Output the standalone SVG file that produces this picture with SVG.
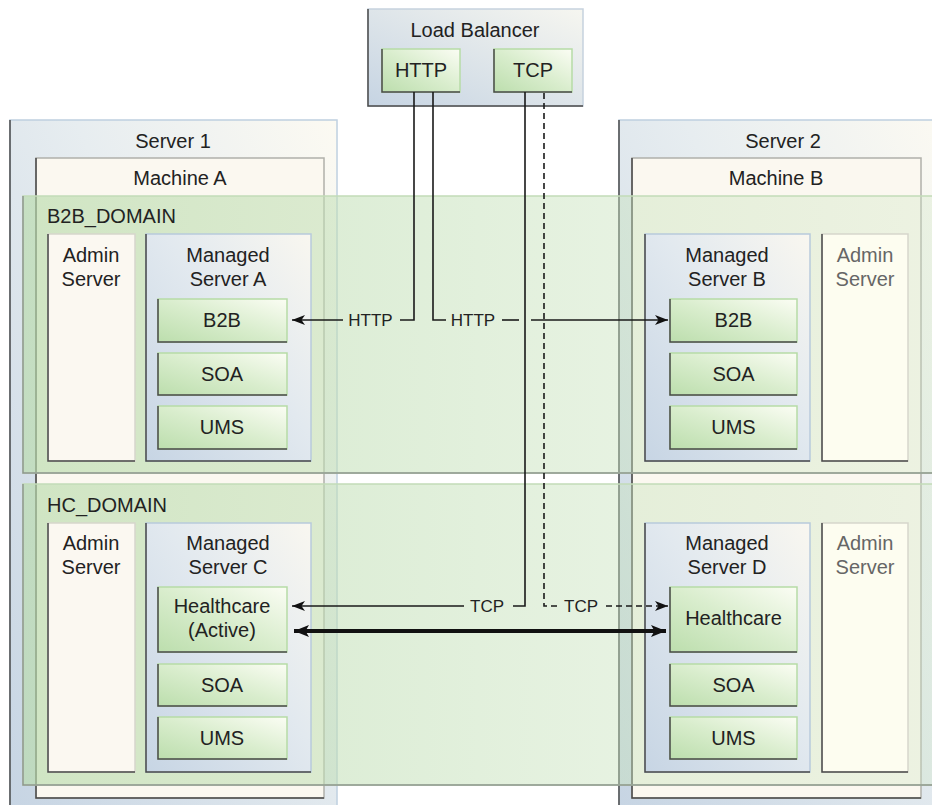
<svg xmlns="http://www.w3.org/2000/svg" width="932" height="805" viewBox="0 0 932 805">
<defs>
<linearGradient id="gServer" x1="0" y1="1" x2="1" y2="0">
<stop offset="0" stop-color="#c6d4e3"/><stop offset="0.6" stop-color="#e7edf0"/><stop offset="1" stop-color="#fcfaf2"/>
</linearGradient>
<linearGradient id="gLB" x1="0" y1="1" x2="1" y2="0">
<stop offset="0" stop-color="#c6d4e3"/><stop offset="1" stop-color="#f6f6f0"/>
</linearGradient>
<linearGradient id="gDomain" x1="0" y1="0" x2="1" y2="0">
<stop offset="0" stop-color="#b9dbac" stop-opacity="0.66"/><stop offset="1" stop-color="#cfe6c4" stop-opacity="0.32"/>
</linearGradient>
<linearGradient id="gManaged" x1="0" y1="1" x2="1" y2="0">
<stop offset="0" stop-color="#c7d5e4"/><stop offset="0.55" stop-color="#e2e9ef"/><stop offset="1" stop-color="#f9f7f0"/>
</linearGradient>
<linearGradient id="gComp" x1="0" y1="1" x2="1" y2="0">
<stop offset="0" stop-color="#bcdead"/><stop offset="0.5" stop-color="#d9edcd"/><stop offset="1" stop-color="#fbfdf4"/>
</linearGradient>
<marker id="arr" markerUnits="userSpaceOnUse" markerWidth="14" markerHeight="12" refX="13" refY="5" orient="auto-start-reverse" viewBox="0 0 14 10">
<path d="M0,0 L13,5 L0,10 L3.5,5 z" fill="#111"/>
</marker>
<marker id="arrBig" markerUnits="userSpaceOnUse" markerWidth="16" markerHeight="14" refX="15" refY="6" orient="auto-start-reverse" viewBox="0 0 16 12">
<path d="M0,0 L15,6 L0,12 L3.5,6 z" fill="#111"/>
</marker>
</defs>
<style>
text{font-family:"Liberation Sans",Arial,sans-serif;font-size:20px;fill:#222;}
.c{text-anchor:middle;}
.lbl{font-size:17px;text-anchor:middle;fill:#222;}
.gray{fill:#666;}
.server{fill:url(#gServer);stroke:#bfd0e0;stroke-width:1.5;}
.lb{fill:url(#gLB);stroke:#c6d2de;stroke-width:1.5;}
.machine{fill:#fbf8f0;stroke:#b0b0aa;stroke-width:1.5;}
.domain{fill:url(#gDomain);stroke:#c2dcb8;stroke-width:1.5;}
.admin{fill:#fbf8f1;stroke:#d6d6cc;stroke-width:1.5;}
.admin2{fill:#fdfdf0;stroke:#d6d6cc;stroke-width:1.5;}
.managed{fill:url(#gManaged);stroke:#b8cadc;stroke-width:1.5;}
.comp{fill:url(#gComp);stroke:#b6dba6;stroke-width:1.5;}
.edge{fill:none;stroke:#4a4a4a;stroke-width:1.5;}
.edgeL{fill:none;stroke:#8e968e;stroke-width:1.5;}
.conn{fill:none;stroke:#1a1a1a;stroke-width:1.6;}
.dash{stroke-dasharray:6 4;}
.thick{fill:none;stroke:#111;stroke-width:4;}
</style>

<g id="server1">
<rect class="server" x="10" y="120" width="327" height="700"/>
<path class="edge" d="M10,120 V805"/>
<text class="c" x="173" y="148">Server 1</text>
</g>
<g id="server2">
<rect class="server" x="619" y="120" width="330" height="700"/>
<path class="edge" d="M619,120 V805"/>
<text class="c" x="783" y="148">Server 2</text>
</g>
<g id="machineA">
<rect class="machine" x="36" y="158" width="288" height="640"/>
<path class="edge" d="M36,158 V798 H324"/>
<text class="c" x="180" y="185">Machine A</text>
</g>
<g id="machineB">
<rect class="machine" x="632" y="158" width="289" height="640"/>
<path class="edge" d="M632,158 V798 H921"/>
<text class="c" x="776" y="185">Machine B</text>
</g>

<g id="b2b_domain">
<rect class="domain" x="23" y="196" width="920" height="277"/>
<path class="edgeL" d="M23,196 V473 H943"/>
<text x="47" y="223">B2B_DOMAIN</text>
</g>
<g id="hc_domain">
<rect class="domain" x="23" y="484" width="920" height="301"/>
<path class="edgeL" d="M23,484 V785 H943"/>
<text x="47" y="512">HC_DOMAIN</text>
</g>

<g id="adminA">
<rect class="admin" x="48" y="234" width="87" height="227"/>
<path class="edge" d="M48,234 V461 H135"/>
<text class="c" x="91" y="262">Admin</text>
<text class="c" x="91" y="286">Server</text>
</g>
<g id="managedA">
<rect class="managed" x="146" y="234" width="165" height="227"/>
<path class="edge" d="M146,234 V461 H311"/>
<text class="c" x="228" y="262">Managed</text>
<text class="c" x="228" y="286">Server A</text>
</g>
<g id="b2bA">
<rect class="comp" x="158" y="299" width="129" height="43"/>
<path class="edge" d="M158,299 V342 H287"/>
<text class="c" x="222" y="327">B2B</text>
</g>
<g id="soaA">
<rect class="comp" x="158" y="353" width="129" height="42"/>
<path class="edge" d="M158,353 V395 H287"/>
<text class="c" x="222" y="380.5">SOA</text>
</g>
<g id="umsA">
<rect class="comp" x="158" y="406" width="129" height="43"/>
<path class="edge" d="M158,406 V449 H287"/>
<text class="c" x="222" y="434">UMS</text>
</g>

<g id="managedB">
<rect class="managed" x="645" y="234" width="165" height="227"/>
<path class="edge" d="M645,234 V461 H810"/>
<text class="c" x="727" y="262">Managed</text>
<text class="c" x="727" y="286">Server B</text>
</g>
<g id="adminB">
<rect class="admin2" x="822" y="234" width="86" height="227"/>
<path class="edge" d="M822,234 V461 H908"/>
<text class="c gray" x="865" y="262">Admin</text>
<text class="c gray" x="865" y="286">Server</text>
</g>
<g id="b2bB">
<rect class="comp" x="670" y="299" width="127" height="43"/>
<path class="edge" d="M670,299 V342 H797"/>
<text class="c" x="733.5" y="327">B2B</text>
</g>
<g id="soaB">
<rect class="comp" x="670" y="353" width="127" height="42"/>
<path class="edge" d="M670,353 V395 H797"/>
<text class="c" x="733.5" y="380.5">SOA</text>
</g>
<g id="umsB">
<rect class="comp" x="670" y="406" width="127" height="43"/>
<path class="edge" d="M670,406 V449 H797"/>
<text class="c" x="733.5" y="434">UMS</text>
</g>

<g id="adminC">
<rect class="admin" x="48" y="523" width="87" height="249"/>
<path class="edge" d="M48,523 V772 H135"/>
<text class="c" x="91" y="550">Admin</text>
<text class="c" x="91" y="574">Server</text>
</g>
<g id="managedC">
<rect class="managed" x="146" y="523" width="165" height="249"/>
<path class="edge" d="M146,523 V772 H311"/>
<text class="c" x="228" y="550">Managed</text>
<text class="c" x="228" y="574">Server C</text>
</g>
<g id="healthcareC">
<rect class="comp" x="158" y="587" width="129" height="65"/>
<path class="edge" d="M158,587 V652 H287"/>
<text class="c" x="222" y="613">Healthcare</text>
<text class="c" x="222" y="637">(Active)</text>
</g>
<g id="soaC">
<rect class="comp" x="158" y="664" width="129" height="42"/>
<path class="edge" d="M158,664 V706 H287"/>
<text class="c" x="222" y="691.5">SOA</text>
</g>
<g id="umsC">
<rect class="comp" x="158" y="717" width="129" height="42"/>
<path class="edge" d="M158,717 V759 H287"/>
<text class="c" x="222" y="744.5">UMS</text>
</g>

<g id="managedD">
<rect class="managed" x="645" y="523" width="165" height="249"/>
<path class="edge" d="M645,523 V772 H810"/>
<text class="c" x="727" y="550">Managed</text>
<text class="c" x="727" y="574">Server D</text>
</g>
<g id="adminD">
<rect class="admin2" x="822" y="523" width="86" height="249"/>
<path class="edge" d="M822,523 V772 H908"/>
<text class="c gray" x="865" y="550">Admin</text>
<text class="c gray" x="865" y="574">Server</text>
</g>
<g id="healthcareD">
<rect class="comp" x="670" y="587" width="127" height="65"/>
<path class="edge" d="M670,587 V652 H797"/>
<text class="c" x="733.5" y="625">Healthcare</text>
</g>
<g id="soaD">
<rect class="comp" x="670" y="664" width="127" height="42"/>
<path class="edge" d="M670,664 V706 H797"/>
<text class="c" x="733.5" y="691.5">SOA</text>
</g>
<g id="umsD">
<rect class="comp" x="670" y="717" width="127" height="42"/>
<path class="edge" d="M670,717 V759 H797"/>
<text class="c" x="733.5" y="744.5">UMS</text>
</g>

<g id="loadBalancer">
<rect class="lb" x="368" y="9" width="215" height="97"/>
<path class="edge" d="M368,9 V106 H583"/>
<text class="c" x="475" y="37">Load Balancer</text>
<g id="lbHTTP">
<rect class="comp" x="382" y="49" width="78" height="43"/>
<path class="edge" d="M382,49 V92 H460"/>
<text class="c" x="421" y="77">HTTP</text>
</g>
<g id="lbTCP">
<rect class="comp" x="494" y="49" width="78" height="43"/>
<path class="edge" d="M494,49 V92 H572"/>
<text class="c" x="533" y="77">TCP</text>
</g>
</g>

<g id="connectors">
<path class="conn" d="M414,92 V320 H400"/>
<path class="conn" d="M343,320 H292" marker-end="url(#arr)"/>
<path class="conn" d="M433,92 V320 H446"/>
<path class="conn" d="M502,320 H519"/>
<path class="conn" d="M531,320 H668" marker-end="url(#arr)"/>
<path class="conn" d="M525,92 V606 H513"/>
<path class="conn" d="M464,606 H292" marker-end="url(#arr)"/>
<path class="conn dash" d="M544,93 V606 H557"/>
<path class="conn dash" d="M606,606 H668" marker-end="url(#arr)"/>
<path class="thick" d="M294,631 H666" marker-start="url(#arrBig)" marker-end="url(#arrBig)"/>
<text class="lbl" x="370.5" y="326">HTTP</text>
<text class="lbl" x="473" y="326">HTTP</text>
<text class="lbl" x="487" y="612">TCP</text>
<text class="lbl" x="581" y="612">TCP</text>
</g>
</svg>
